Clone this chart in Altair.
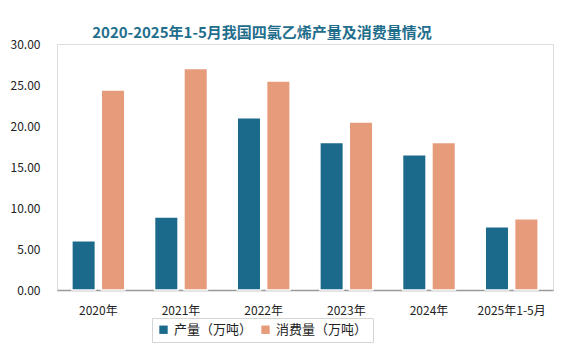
import altair as alt
import pandas as pd

years = ["2020年", "2021年", "2022年", "2023年", "2024年", "2025年1-5月"]
production = [6.0, 8.9, 21.0, 18.0, 16.5, 7.7]
consumption = [24.4, 27.0, 25.5, 20.5, 18.0, 8.7]
series = ["产量（万吨）", "消费量（万吨）"]
colors = ["#1b6a8c", "#e69b7b"]

rows = []
for i, y in enumerate(years):
    rows.append({"year": y, "series": series[0], "value": production[i]})
    rows.append({"year": y, "series": series[1], "value": consumption[i]})
df = pd.DataFrame(rows)

font = "Noto Sans CJK SC"

chart = alt.Chart(df).mark_bar(stroke="white", strokeWidth=1.5).encode(
    x=alt.X("year:N", sort=years, title=None,
            scale=alt.Scale(paddingInner=0.36, paddingOuter=0.18),
            axis=alt.Axis(labelAngle=0, labelFontSize=12, labelColor="#222222",
                          labelFont=font, ticks=False, labelPadding=15,
                          domainColor="#999999", domainWidth=1.5)),
    xOffset=alt.XOffset("series:N", sort=series, scale=alt.Scale(paddingInner=0.2)),
    y=alt.Y("value:Q", title=None,
            scale=alt.Scale(domain=[0, 30]),
            axis=alt.Axis(values=[0, 5, 10, 15, 20, 25, 30], format=".2f",
                          grid=False, domain=False, ticks=False, labelPadding=17,
                          labelFontSize=12, labelColor="#222222", labelFont=font)),
    color=alt.Color("series:N", sort=series,
                    scale=alt.Scale(domain=series, range=colors),
                    legend=alt.Legend(title=None, orient="none", direction="horizontal",
                                      legendX=95, legendY=274,
                                      symbolType="square", symbolSize=70,
                                      symbolStrokeWidth=0,
                                      labelFontSize=13, labelFont=font, labelColor="#222222",
                                      columnPadding=6, padding=5,
                                      strokeColor="#d5d5d5", fillColor="white")),
).properties(
    width=496, height=246,
    title=alt.TitleParams("2020-2025年1-5月我国四氯乙烯产量及消费量情况",
                          font=font, fontSize=15, fontWeight="bold",
                          color="#1f6e8c", anchor="middle", dx=-43, offset=-3),
    padding={"left": 2, "top": 18, "right": 20, "bottom": 10},
).configure_view(
    fill="#ebebeb", stroke=None
).configure(background="white")

chart.save("out.html", embed_options={"renderer": "svg", "actions": False})
